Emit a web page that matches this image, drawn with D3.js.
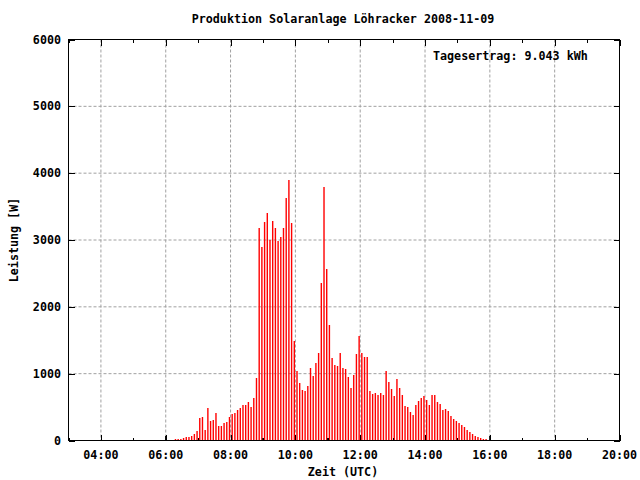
<!DOCTYPE html>
<html><head><meta charset="utf-8">
<script src="https://cdn.jsdelivr.net/npm/d3@7"></script>
<style>
html,body{margin:0;padding:0;background:#fff;}
text{font-family:"DejaVu Sans Mono","Liberation Mono",monospace;font-weight:bold;font-size:11.7px;fill:#000;}
</style></head>
<body><svg id="c" width="640" height="480"></svg>
<script>
const title = "Produktion Solaranlage Löhracker 2008-11-09";
const xLabel = "Zeit (UTC)";
const yLabel = "Leistung [W]";
const note = "Tagesertrag: 9.043 kWh";
const xTickLabels = ["04:00","06:00","08:00","10:00","12:00","14:00","16:00","18:00","20:00"];
const xMinorLabels = ["03:00","05:00","07:00","09:00","11:00","13:00","15:00","17:00","19:00"];
const yTickValues = [0,1000,2000,3000,4000,5000,6000];
const xDomain = ["03:00","20:00"];
const yDomain = [0,6000];

const times = ("06:18 06:23 06:28 06:33 06:38 06:43 06:48 06:53 06:58 " +
 "07:03 07:08 07:13 07:18 07:23 07:28 07:33 07:38 07:43 07:48 07:53 07:58 " +
 "08:03 08:08 08:13 08:18 08:23 08:28 08:33 08:38 08:43 08:48 08:53 08:58 " +
 "09:03 09:08 09:13 09:18 09:23 09:28 09:33 09:38 09:43 09:48 09:53 09:58 " +
 "10:03 10:08 10:13 10:18 10:23 10:28 10:33 10:38 10:43 10:48 10:53 10:58 " +
 "11:03 11:08 11:13 11:18 11:23 11:28 11:33 11:38 11:43 11:48 11:53 11:58 " +
 "12:03 12:08 12:13 12:18 12:23 12:28 12:33 12:38 12:43 12:48 12:53 12:58 " +
 "13:03 13:08 13:13 13:18 13:23 13:28 13:33 13:38 13:43 13:48 13:53 13:58 " +
 "14:03 14:08 14:13 14:18 14:23 14:28 14:33 14:38 14:43 14:48 14:53 14:58 " +
 "15:03 15:08 15:13 15:18 15:23 15:28 15:33 15:38 15:43 15:48 15:53").split(" ");

const power = [
 15,15,15,30,45,45,65,90,135,333,358,164,493,299,313,418,224,224,269,284,358,393,418,463,493,537,537,
 582,507,642,940,3179,2895,3269,3403,3000,3283,3179,2985,3045,3179,3627,3895,3254,1493,1045,866,
 761,746,821,1090,970,1164,1313,2358,3791,2567,1731,1239,1134,1119,1313,1090,1075,955,791,985,1298,1567,
 1313,1254,1254,746,701,716,687,716,687,1045,881,776,672,925,791,687,522,507,433,388,537,597,642,672,612,537,
 687,687,582,552,463,478,448,373,328,299,269,239,209,164,134,90,60,45,30,15,15
];

const markerTimes = ["06:00","09:00","11:00","16:00"];
const markerValues = [65,30,30,60];

const hrs = s => { const p = s.split(":"); return +p[0] + (+p[1])/60; };

const L = 68.5, R = 619.5, T = 39.5, B = 440.5;
const svg = d3.select("#c");
const x = d3.scaleLinear().domain(xDomain.map(hrs)).range([L, R]);
const y = d3.scaleLinear().domain(yDomain).range([B, T]);

// grid
const g = svg.append("g");
xTickLabels.slice(0, -1).forEach(t => {
  g.append("line").attr("x1", x(hrs(t))).attr("x2", x(hrs(t))).attr("y1", T).attr("y2", B)
   .attr("stroke", "#a0a0a0").attr("stroke-dasharray", "3,2");
});
yTickValues.slice(1, -1).forEach(v => {
  g.append("line").attr("x1", L).attr("x2", R).attr("y1", y(v)).attr("y2", y(v))
   .attr("stroke", "#a0a0a0").attr("stroke-dasharray", "3,2");
});

// bars
const bw = 1.4;
svg.append("g").selectAll("rect").data(times.map((t, i) => ({t, v: power[i]})))
  .join("rect")
  .attr("x", d => x(hrs(d.t)) - bw / 2)
  .attr("width", bw)
  .attr("y", d => Math.round(y(d.v)))
  .attr("height", d => Math.round(y(0)) - Math.round(y(d.v)))
  .attr("fill", "#ff0000");

svg.append("g").selectAll("rect").data(markerTimes.map((t, i) => ({t, v: markerValues[i]})))
  .join("rect")
  .attr("x", d => x(hrs(d.t)) - bw / 2)
  .attr("width", bw)
  .attr("y", d => Math.round(y(d.v)))
  .attr("height", d => Math.round(y(0)) - Math.round(y(d.v)))
  .attr("fill", "#000");

// axes (ticks inward, mirrored)
const xAxisB = d3.axisBottom(x).tickValues(xTickLabels.map(hrs)).tickSize(-6).tickFormat("");
const xAxisT = d3.axisTop(x).tickValues(xTickLabels.map(hrs)).tickSize(-6).tickFormat("");
const xMinB = d3.axisBottom(x).tickValues(xMinorLabels.map(hrs)).tickSize(-3).tickFormat("");
const xMinT = d3.axisTop(x).tickValues(xMinorLabels.map(hrs)).tickSize(-3).tickFormat("");
const yAxisL = d3.axisLeft(y).tickValues(yTickValues).tickSize(-6).tickFormat("");
const yAxisR = d3.axisRight(y).tickValues(yTickValues).tickSize(-6).tickFormat("");
[[xAxisB, `translate(0,${B})`], [xAxisT, `translate(0,${T})`], [xMinB, `translate(0,${B})`],
 [xMinT, `translate(0,${T})`], [yAxisL, `translate(${L},0)`], [yAxisR, `translate(${R},0)`]].forEach(([a, tr]) => {
  const ax = svg.append("g").attr("transform", tr).call(a);
  ax.select(".domain").remove();
  ax.selectAll("line").attr("stroke", "#000").attr("shape-rendering", "crispEdges");
});
svg.append("rect").attr("x", L).attr("y", T).attr("width", R - L).attr("height", B - T)
  .attr("fill", "none").attr("stroke", "#000").attr("shape-rendering", "crispEdges");

// tick labels
svg.append("g").selectAll("text").data(xTickLabels).join("text")
  .attr("x", d => x(hrs(d))).attr("y", 459).attr("text-anchor", "middle").text(d => d);
svg.append("g").selectAll("text").data(yTickValues).join("text")
  .attr("x", 61).attr("y", d => y(d) + 4).attr("text-anchor", "end").text(d => d);

// titles
svg.append("text").attr("x", 343).attr("y", 23).attr("text-anchor", "middle").text(title);
svg.append("text").attr("x", 343).attr("y", 476).attr("text-anchor", "middle").text(xLabel);
svg.append("text").attr("transform", "translate(18,240) rotate(-90)").attr("text-anchor", "middle").text(yLabel);
svg.append("text").attr("x", 433).attr("y", 60).text(note);
</script></body></html>
